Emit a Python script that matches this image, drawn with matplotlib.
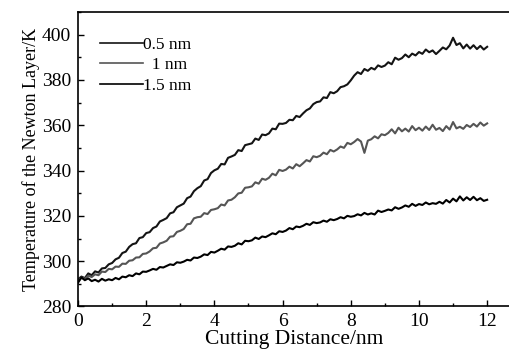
import numpy as np
import matplotlib
matplotlib.use("Agg")
import matplotlib.pyplot as plt
from matplotlib.ticker import MultipleLocator

# Cutting distance (nm), sampled every 0.1 nm from 0 to 12
distance = [round(0.1 * i, 1) for i in range(121)]

# Temperature of the Newton layer (K)
temp_05 = [
    292.0, 293.2, 292.5, 294.6, 293.8, 295.5,
    295.0, 296.8, 297.0, 298.6, 299.2,
    300.8, 301.5, 303.6, 304.2, 306.3,
    307.5, 307.9, 310.2, 310.6, 312.4,
    312.8, 314.6, 315.3, 317.5, 318.2,
    319.0, 321.1, 321.6, 323.8, 324.6,
    325.4, 327.8, 328.5, 330.9, 332.2,
    333.1, 335.6, 336.2, 338.9, 340.1,
    340.8, 342.9, 342.7, 345.6, 346.2,
    346.9, 349.0, 348.6, 351.2, 351.6,
    352.0, 354.1, 353.5, 355.9, 355.6,
    356.4, 358.5, 358.2, 360.7, 360.6,
    361.0, 362.4, 362.2, 364.1, 363.6,
    365.2, 366.6, 367.4, 369.3, 370.2,
    370.5, 372.3, 372.0, 374.6, 374.1,
    375.0, 376.8, 377.2, 378.0, 379.8,
    381.9, 383.4, 382.6, 384.8, 384.0,
    385.3, 384.6, 386.4, 385.7, 386.3,
    387.8, 386.9, 389.8, 388.9, 389.6,
    391.2, 390.0, 391.6, 390.8, 392.3,
    391.5, 393.4, 392.2, 393.0, 391.4,
    392.8, 394.3, 393.5, 395.2, 398.6,
    395.4, 396.2, 393.9, 395.6, 393.8,
    395.3, 393.6, 395.0, 393.4, 394.6,
]

temp_10 = [
    291.5, 292.8, 292.2, 293.6, 293.0, 294.2,
    293.8, 295.4, 295.2, 296.6, 296.4,
    297.6, 297.5, 298.9, 298.8, 300.2,
    300.4, 301.6, 301.7, 303.2, 303.4,
    304.3, 305.7, 305.9, 307.8, 308.3,
    309.0, 310.8, 311.0, 312.9, 313.4,
    314.2, 316.3, 316.5, 318.9, 319.4,
    319.6, 321.2, 320.8, 322.6, 322.9,
    323.4, 325.0, 324.6, 326.8, 327.1,
    328.2, 329.9, 330.2, 332.4, 332.6,
    333.0, 334.8, 334.2, 336.4, 335.9,
    336.8, 338.6, 337.9, 340.3, 339.8,
    340.4, 341.7, 340.9, 342.8, 341.9,
    343.2, 344.6, 344.0, 346.3, 345.9,
    346.5, 347.9, 347.2, 349.1, 348.4,
    349.3, 350.6, 350.0, 352.2, 351.6,
    352.6, 353.9, 352.8, 347.8, 353.2,
    353.8, 355.1, 354.2, 356.0, 355.6,
    356.6, 358.2, 356.4, 358.9, 357.3,
    358.5, 357.2, 359.6, 357.8, 358.9,
    357.6, 359.4, 357.9, 360.2, 358.0,
    358.8, 357.4, 359.6, 358.1, 361.4,
    358.6, 359.3, 358.4, 360.1, 359.2,
    360.6, 359.4, 361.2, 359.8, 360.8,
]

temp_15 = [
    290.5, 292.8, 291.6, 292.4, 291.2, 291.8,
    291.0, 292.2, 291.4, 292.0, 291.6,
    292.6, 292.0, 293.2, 292.9, 293.8,
    293.4, 294.6, 294.2, 295.4, 295.3,
    295.9, 296.6, 296.2, 297.4, 297.2,
    297.9, 298.6, 298.3, 299.5, 299.3,
    299.8, 300.6, 300.3, 301.6, 301.4,
    302.0, 303.0, 302.7, 304.1, 303.8,
    304.6, 305.5, 305.1, 306.5, 306.3,
    306.8, 307.9, 307.4, 309.0, 308.8,
    309.2, 310.4, 309.8, 310.9, 310.6,
    311.4, 312.3, 311.9, 313.2, 312.9,
    313.5, 314.6, 314.1, 315.3, 315.0,
    315.6, 316.5, 316.0, 317.2, 316.8,
    317.1, 317.9, 317.4, 318.5, 318.1,
    318.6, 319.4, 318.9, 320.0, 319.6,
    319.9, 320.7, 320.2, 321.3, 320.6,
    321.1, 320.6, 322.3, 321.7, 322.2,
    322.8, 322.4, 323.8, 323.1, 323.7,
    324.6, 324.0, 325.3, 324.4, 325.2,
    324.8, 325.9, 325.1, 325.6, 325.3,
    326.2, 325.4, 327.0, 325.9, 327.6,
    326.4, 328.6, 326.8, 328.2, 327.0,
    328.4, 326.9, 327.8, 326.6, 327.1,
]

labels = ["0.5 nm", "  1 nm", "1.5 nm"]
colors = ["#141414", "#555555", "#000000"]

plt.rcParams["font.family"] = ["Liberation Serif", "DejaVu Serif"]

fig = plt.figure(figsize=(5.10, 3.61), dpi=100)
ax = fig.add_axes([0.153, 0.151, 0.847, 0.816])

for series, lab, col in zip([temp_05, temp_10, temp_15], labels, colors):
    ax.plot(distance, series, color=col, lw=1.5, label=lab)

ax.set_xlim(0, 12.67)
ax.set_ylim(280, 410)
ax.xaxis.set_major_locator(MultipleLocator(2))
ax.xaxis.set_minor_locator(MultipleLocator(1))
ax.yaxis.set_major_locator(MultipleLocator(20))
ax.yaxis.set_minor_locator(MultipleLocator(10))
ax.tick_params(which="both", direction="in", width=1.0, top=False, right=False)
ax.tick_params(which="major", length=4.5, labelsize=14, pad=5)
ax.tick_params(which="minor", length=2.5)

ax.spines["right"].set_visible(False)
for s in ["left", "bottom", "top"]:
    ax.spines[s].set_linewidth(1.2)

ax.set_xlabel("Cutting Distance/nm", fontsize=15.5, labelpad=0)
ax.set_ylabel("Temperature of the Newton Layer/K", fontsize=13, labelpad=1)

leg = ax.legend(loc="upper left", bbox_to_anchor=(0.035, 0.94), frameon=False,
                fontsize=12.5, handlelength=2.5, handletextpad=0.0,
                labelspacing=0.25, borderaxespad=0.0)
for line in leg.get_lines():
    line.set_linewidth(1.2)

fig.savefig("out.png", dpi=100)
